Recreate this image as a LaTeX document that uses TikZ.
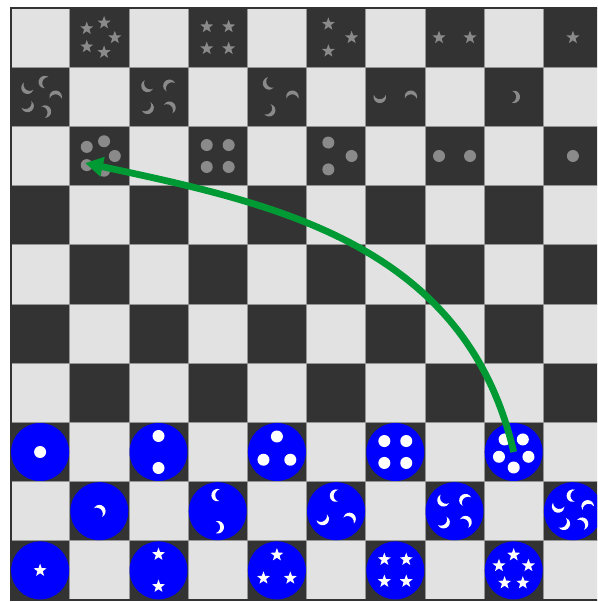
\documentclass[tikz,border=0pt]{standalone}
\usetikzlibrary{arrows.meta,calc}
\definecolor{lightsq}{HTML}{E2E2E2}
\definecolor{darksq}{HTML}{333333}
\definecolor{gridc}{HTML}{959595}
\definecolor{graypc}{HTML}{8A8A8A}
\definecolor{bluepc}{HTML}{0000FF}
\definecolor{arrowc}{HTML}{009A35}
\newcommand\symring[5]{\foreach \a in {#4}{\pic[color=#5] at ($(#1)+(\a:#3)$) {#2};}}
\newcommand\moonring[4]{\foreach \a in {#3}{\pic[color=#4, rotate=\a-90] at ($(#1)+(\a:#2)$) {moonsym};}}
\begin{document}
\begin{tikzpicture}[x=1pt,y=1pt,
  cellsq/.style={draw=gridc, line width=0.8pt},
  bluepiece/.style={circle, fill=bluepc, minimum size=58pt, inner sep=0pt},
  graypiece/.style={circle, minimum size=50pt, inner sep=0pt},
  movearrow/.style={draw=arrowc, line width=6.8pt, -{Triangle[length=18pt,width=19pt]}},
  dotsym/.pic={\fill (0,0) circle[radius=6];},
  starsym/.pic={\fill (90:6.8) -- (126:2.8) -- (162:6.8) -- (198:2.8) -- (234:6.8) -- (270:2.8) -- (306:6.8) -- (342:2.8) -- (18:6.8) -- (54:2.8) -- cycle;},
  moonsym/.pic={\fill (1.9,6.007) arc[start angle=72.45, end angle=287.55, radius=6.3] arc[start angle=252.45, end angle=107.55, radius=6.3] -- cycle;}
]
\useasboundingbox (0,0) rectangle (597,602);
\clip (0,0) rectangle (597,602);
\fill[white] (0,0) rectangle (597,602);
% board
\foreach \r in {0,...,9} \foreach \c in {0,...,9} {
  \pgfmathsetmacro\xx{10.5+59.2*\c}
  \pgfmathsetmacro\yy{594-59.2*\r}
  \pgfmathtruncatemacro\odd{mod(\r+\c,2)}
  \ifnum\odd=1 \def\sqcol{darksq}\else\def\sqcol{lightsq}\fi
  \filldraw[cellsq, fill=\sqcol] (\xx,\yy) rectangle ++(59.2,-59.2);
}
\draw[darksq, line width=2pt] (10.5,2) rectangle (602.5,594);
% gray pieces
\node[graypiece] (g01) at (99.3,564.4) {};
\node[graypiece] (g03) at (217.7,564.4) {};
\node[graypiece] (g05) at (336.1,564.4) {};
\node[graypiece] (g07) at (454.5,564.4) {};
\node[graypiece] (g09) at (572.9,564.4) {};
\node[graypiece] (g10) at (40.1,505.2) {};
\node[graypiece] (g12) at (158.5,505.2) {};
\node[graypiece] (g14) at (276.9,505.2) {};
\node[graypiece] (g16) at (395.3,505.2) {};
\node[graypiece] (g18) at (513.7,505.2) {};
\node[graypiece] (g21) at (99.3,446) {};
\node[graypiece] (g23) at (217.7,446) {};
\node[graypiece] (g25) at (336.1,446) {};
\node[graypiece] (g27) at (454.5,446) {};
\node[graypiece] (g29) at (572.9,446) {};
\symring{g01}{starsym}{15.5}{0,72,144,216,288}{graypc}
\symring{g03}{starsym}{15.5}{45,135,225,315}{graypc}
\symring{g05}{starsym}{15.5}{0,120,240}{graypc}
\symring{g07}{starsym}{15.5}{0,180}{graypc}
\symring{g09}{starsym}{0}{0}{graypc}
\moonring{g10}{15.5}{0,72,144,216,288}{graypc}
\moonring{g12}{15.5}{45,135,225,315}{graypc}
\moonring{g14}{15.5}{0,120,240}{graypc}
\moonring{g16}{15.5}{0,180}{graypc}
\pic[color=graypc, rotate=180] at (g18) {moonsym};
\symring{g21}{dotsym}{15.5}{0,72,144,216,288}{graypc}
\symring{g23}{dotsym}{15.5}{45,135,225,315}{graypc}
\symring{g25}{dotsym}{15.5}{0,120,240}{graypc}
\symring{g27}{dotsym}{15.5}{0,180}{graypc}
\symring{g29}{dotsym}{0}{0}{graypc}
% blue pieces
\node[bluepiece] (b70) at (40.1,150) {};
\node[bluepiece] (b72) at (158.5,150) {};
\node[bluepiece] (b74) at (276.9,150) {};
\node[bluepiece] (b76) at (395.3,150) {};
\node[bluepiece] (b78) at (513.7,150) {};
\node[bluepiece] (b81) at (99.3,90.8) {};
\node[bluepiece] (b83) at (217.7,90.8) {};
\node[bluepiece] (b85) at (336.1,90.8) {};
\node[bluepiece] (b87) at (454.5,90.8) {};
\node[bluepiece] (b89) at (572.9,90.8) {};
\node[bluepiece] (b90) at (40.1,31.6) {};
\node[bluepiece] (b92) at (158.5,31.6) {};
\node[bluepiece] (b94) at (276.9,31.6) {};
\node[bluepiece] (b96) at (395.3,31.6) {};
\node[bluepiece] (b98) at (513.7,31.6) {};
\symring{b70}{dotsym}{0}{90}{white}
\symring{b72}{dotsym}{16}{90,270}{white}
\symring{b74}{dotsym}{15.5}{90,210,330}{white}
\symring{b76}{dotsym}{15.5}{45,135,225,315}{white}
\symring{b78}{dotsym}{15.5}{270,342,54,126,198}{white}
\pic[color=white, rotate=225] at (b81) {moonsym};
\moonring{b83}{16}{90,270}{white}
\moonring{b85}{15.5}{90,210,330}{white}
\moonring{b87}{15.5}{45,135,225,315}{white}
\moonring{b89}{15.5}{90,162,234,306,18}{white}
\symring{b90}{starsym}{0}{90}{white}
\symring{b92}{starsym}{16}{90,270}{white}
\symring{b94}{starsym}{15.5}{90,210,330}{white}
\symring{b96}{starsym}{15.5}{45,135,225,315}{white}
\symring{b98}{starsym}{15.5}{90,162,234,306,18}{white}
% move arrow
\coordinate (tip) at ($(g21)+(-14.3,-7)$);
\draw[movearrow] (b78.center) .. controls ($(b78.center)+(-48.7,210)$) and ($(tip)+(186,-40)$) .. (tip);
\end{tikzpicture}
\end{document}
